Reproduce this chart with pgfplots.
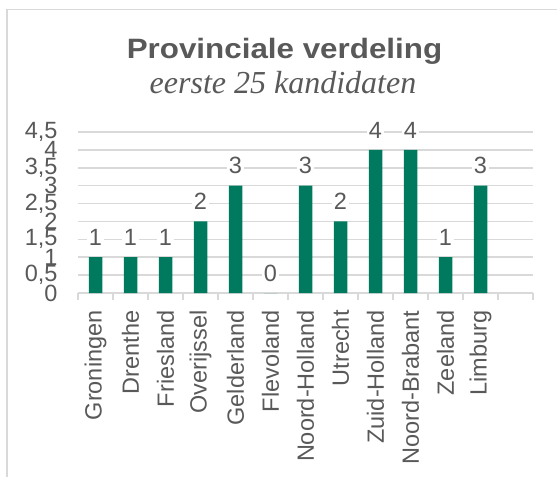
\documentclass[border=0pt]{standalone}
\usepackage{fontspec}
\setmainfont{Liberation Sans}
\newfontfamily\titlefont[FakeStretch=1.12]{Liberation Sans}
\newfontfamily\subfont{Liberation Serif}
\usepackage{pgfplots}
\pgfplotsset{compat=1.18}
\definecolor{textgray}{HTML}{595959}
\definecolor{gridgray}{HTML}{D9D9D9}
\definecolor{barcolor}{HTML}{007A5E}
\newcommand\lab{\fontsize{23.5bp}{26bp}\selectfont}
\begin{document}
\begin{tikzpicture}
\useasboundingbox (0,0) rectangle (557bp,-477bp);
\draw[gridgray, line width=1.5bp] (7bp,-500bp) -- (7bp,-9.5bp) -- (600bp,-9.5bp);
\node[anchor=base, text=textgray, inner sep=0pt, font=\fontsize{28bp}{32bp}\selectfont\titlefont\bfseries] at (284.5bp,-58bp) {Provinciale verdeling};
\node[anchor=base, text=textgray, inner sep=0pt, font=\fontsize{32bp}{36bp}\selectfont\subfont\itshape] at (283bp,-93bp) {eerste 25 kandidaten};
\begin{axis}[
  at={(78bp,-293bp)}, anchor=south west,
  scale only axis, width=455bp, height=161bp,
  xmin=-0.5, xmax=12.5, ymin=0, ymax=4.5,
  enlargelimits=false, clip=false,
  axis line style={draw=none},
  ytick={0,0.5,...,4.5},
  ymajorgrids, grid style={line width=1.5bp, gridgray},
  ytick style={draw=none},
  xtick={0,...,11},
  xticklabels={Groningen,Drenthe,Friesland,Overijssel,Gelderland,Flevoland,Noord-Holland,Utrecht,Zuid-Holland,Noord-Brabant,Zeeland,Limburg},
  major x tick style={draw=none},
  minor xtick={-0.5,0.5,...,12.5},
  minor tick length=7bp, tick align=outside, xtick pos=lower,
  minor x tick style={gridgray, line width=1.3bp},
  x tick label style={rotate=90, anchor=east, font=\lab, text=textgray, inner sep=0pt},
  xticklabel shift=13bp,
  y tick label style={font=\lab, text=textgray, inner sep=0pt, /pgf/number format/.cd, use comma, fixed, assume math mode=true},
  yticklabel shift=16bp,
  ybar, bar width=13.5bp,
  nodes near coords,
  every node near coord/.append style={font=\lab, text=textgray, fill=white, inner sep=1.5bp, anchor=south, yshift=10bp, /pgf/number format/assume math mode=true},
]
\addplot[fill=barcolor, draw=none] coordinates {(0,1) (1,1) (2,1) (3,2) (4,3) (5,0) (6,3) (7,2) (8,4) (9,4) (10,1) (11,3)};
\end{axis}
\end{tikzpicture}
\end{document}
